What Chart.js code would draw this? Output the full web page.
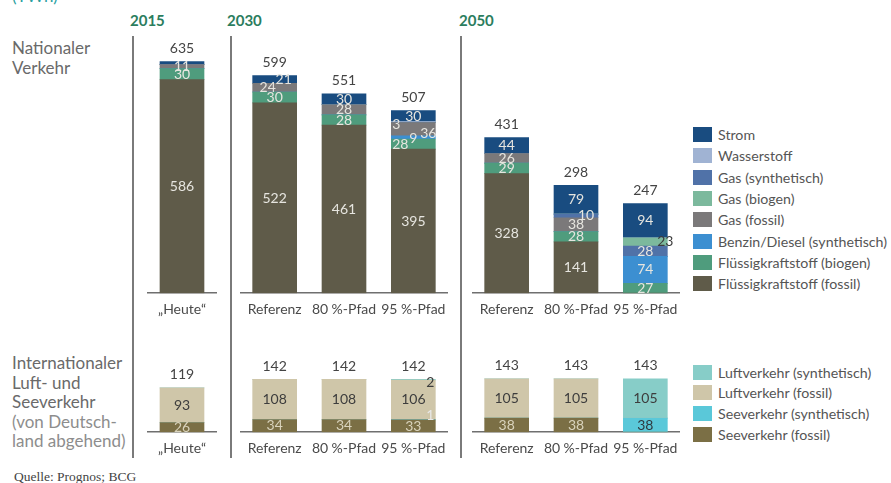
<!DOCTYPE html>
<html>
<head>
<meta charset="utf-8">
<script src="https://cdn.jsdelivr.net/npm/chart.js@4"></script>
<style>
  body { margin: 0; background: #fff; font-family: Lato, "Noto Sans", sans-serif; }
  #page { position: relative; width: 891px; height: 483px; overflow: hidden; }
  .box { position: absolute; }
  .sep { position: absolute; width: 2px; background: #7a7a7a; top: 36px; height: 422px; }
  .year { position: absolute; top: 11px; font-weight: bold; font-size: 15px; color: #2b7d5e; }
  .side { position: absolute; left: 12px; font-size: 17px; line-height: 19.6px; color: #6a6a6a; }
  .side .light { color: #8d8d8d; }
  .legend { position: absolute; left: 693px; font-size: 14.2px; color: #555; }
  .legend div { display: flex; align-items: center; }
  .legend span.sw { display: inline-block; width: 19px; height: 15px; margin-right: 6px; }
</style>
</head>
<body>
<div id="page">
  <div class="box" style="left:12px; top:-15px; font-size:17px; color:#2aa0a0;">(TWh)</div>
  <div class="year" style="left:130px;">2015</div>
  <div class="year" style="left:227px;">2030</div>
  <div class="year" style="left:459px;">2050</div>
  <div class="sep" style="left:132px;"></div>
  <div class="sep" style="left:230px;"></div>
  <div class="sep" style="left:460px;"></div>
  <div class="side" style="top:38px;">Nationaler<br>Verkehr</div>
  <div class="side" style="top:353px;">Internationaler<br>Luft- und<br>Seeverkehr<br><span class="light">(von Deutsch-<br>land abgehend)</span></div>
  <div class="box" style="left:14px; top:469px; font-family:'Liberation Serif', serif; font-size:13.5px; color:#444;">Quelle: Prognos; BCG</div>

  <div class="box" style="left:147px; top:38px; width:70px; height:288px;"><canvas id="t0"></canvas></div>
  <div class="box" style="left:240px; top:38px; width:208px; height:288px;"><canvas id="t1"></canvas></div>
  <div class="box" style="left:472px; top:38px; width:208px; height:288px;"><canvas id="t2"></canvas></div>
  <div class="box" style="left:147px; top:354px; width:70px; height:111px;"><canvas id="b0"></canvas></div>
  <div class="box" style="left:240px; top:354px; width:208px; height:111px;"><canvas id="b1"></canvas></div>
  <div class="box" style="left:472px; top:354px; width:208px; height:111px;"><canvas id="b2"></canvas></div>

  <div class="legend" id="legTop" style="top:124px;"></div>
  <div class="legend" id="legBottom" style="top:362px;"></div>
</div>
<script>
// bars: 2015 Heute | 2030 Referenz, 80 %, 95 % | 2050 Referenz, 80 %, 95 %
const categories = ['„Heute“', 'Referenz', '80\u202F%-Pfad', '95\u202F%-Pfad', 'Referenz', '80\u202F%-Pfad', '95\u202F%-Pfad'];
const panels = [[0], [1, 2, 3], [4, 5, 6]];

// Nationaler Verkehr (TWh)
const fluessigFossil = [586, 522, 461, 395, 328, 141, 0];
const fluessigBiogen = [30, 30, 28, 28, 29, 28, 27];
const benzinSynth    = [0, 0, 0, 9, 0, 0, 74];
const gasFossil      = [11, 24, 28, 36, 26, 38, 0];
const gasSynth       = [0, 0, 0, 0, 0, 10, 28];
const gasBiogen      = [0, 0, 0, 0, 0, 0, 23];
const wasserstoff    = [0, 0, 0, 3, 0, 0, 0];
const strom          = [8, 21, 30, 30, 44, 79, 94];
const totalsTop      = [635, 599, 551, 507, 431, 298, 247];

// Internationaler Luft- und Seeverkehr (TWh)
const seeFossil  = [26, 34, 34, 33, 38, 38, 0];
const seeSynth   = [0, 0, 0, 1, 0, 0, 38];
const luftFossil = [93, 108, 108, 106, 105, 105, 0];
const luftSynth  = [0, 0, 0, 2, 0, 0, 105];
const totalsBottom = [119, 142, 142, 142, 143, 143, 143];

const light = '#e6e5df', dark = '#3d3d3d';
const topSeries = [
  { label: 'Flüssigkraftstoff (fossil)', data: fluessigFossil, color: '#5f5b49', text: light },
  { label: 'Flüssigkraftstoff (biogen)', data: fluessigBiogen, color: '#4f9c7d', text: light },
  { label: 'Benzin/Diesel (synthetisch)', data: benzinSynth, color: '#3c8fd1', text: light },
  { label: 'Gas (fossil)', data: gasFossil, color: '#7b797a', text: light },
  { label: 'Gas (synthetisch)', data: gasSynth, color: '#5072a8', text: light },
  { label: 'Gas (biogen)', data: gasBiogen, color: '#7cb99d', text: light },
  { label: 'Wasserstoff', data: wasserstoff, color: '#a0b3d3', text: light },
  { label: 'Strom', data: strom, color: '#194c80', text: light },
];
const topLegendOrder = ['Strom', 'Wasserstoff', 'Gas (synthetisch)', 'Gas (biogen)', 'Gas (fossil)',
  'Benzin/Diesel (synthetisch)', 'Flüssigkraftstoff (biogen)', 'Flüssigkraftstoff (fossil)'];

const bottomSeries = [
  { label: 'Seeverkehr (fossil)', data: seeFossil, color: '#7b6f45', text: '#d9d3bc' },
  { label: 'Seeverkehr (synthetisch)', data: seeSynth, color: '#5ac8d9', text: '#2f3a40' },
  { label: 'Luftverkehr (fossil)', data: luftFossil, color: '#cfc6a9', text: dark },
  { label: 'Luftverkehr (synthetisch)', data: luftSynth, color: '#87cdc8', text: dark },
];

// label tweaks for crowded segments: [dx, dy, colour]
const nudge = {
  '1|Gas (fossil)': [-7, 0], '1|Strom': [9, 0],
  '3|Flüssigkraftstoff (biogen)': [-13, 0], '3|Benzin/Diesel (synthetisch)': [0, 1],
  '3|Gas (fossil)': [15, 4], '3|Wasserstoff': [-17, 2],
  '5|Gas (synthetisch)': [10, 0], '6|Gas (biogen)': [20, 0, dark],
};
const nudgeBottom = { '3|Luftverkehr (synthetisch)': [17, 3, dark], '3|Seeverkehr (synthetisch)': [17, -4, '#e8e8e8'] };
const skip = ['0|Strom'];

const segLabels = {
  id: 'segLabels',
  afterDatasetsDraw(chart, args, opts) {
    const ctx = chart.ctx;
    ctx.save();
    ctx.textAlign = 'center';
    ctx.textBaseline = 'middle';
    ctx.font = '14px Lato, sans-serif';
    const tops = [];
    chart.data.datasets.forEach((ds, di) => {
      chart.getDatasetMeta(di).data.forEach((bar, i) => {
        const v = ds.data[i];
        if (!v) return;
        tops[i] = Math.min(tops[i] ?? Infinity, bar.y);
        const key = opts.index[i] + '|' + ds.label;
        if (skip.includes(key)) return;
        const n = opts.nudge[key] || [0, 0];
        ctx.fillStyle = n[2] || ds.textColor;
        ctx.fillText(String(v), bar.x + n[0], (bar.y + bar.base) / 2 + n[1]);
      });
    });
    ctx.fillStyle = '#444';
    const bars = chart.getDatasetMeta(0).data;
    tops.forEach((t, i) => { if (t !== undefined) ctx.fillText(String(opts.totals[opts.index[i]]), bars[i].x, t - 13); });
    ctx.restore();
  }
};

function makeChart(id, idx, series, yMax, totals, nudges) {
  new Chart(document.getElementById(id), {
    type: 'bar',
    data: {
      labels: idx.map(i => categories[i]),
      datasets: series.map(s => ({
        label: s.label,
        data: idx.map(i => s.data[i]),
        backgroundColor: s.color,
        textColor: s.text,
        barThickness: 44,
        borderWidth: 0,
      })),
    },
    options: {
      responsive: true,
      maintainAspectRatio: false,
      animation: false,
      layout: { padding: 0 },
      plugins: {
        legend: { display: false },
        tooltip: { enabled: false },
        segLabels: { index: idx, totals, nudge: nudges },
      },
      scales: {
        x: {
          stacked: true,
          grid: { display: false, drawTicks: false },
          border: { display: true, color: '#6f6f6f', width: 1.5 },
          ticks: { color: '#4a4a4a', padding: 8, maxRotation: 0, minRotation: 0, autoSkip: false,
                   font: { family: 'Lato', size: 14 } },
          // keep the full canvas width for the bars, labels may reach the edge
          afterFit: (s) => { s.paddingLeft = 0; s.paddingRight = 0; },
        },
        y: { stacked: true, display: false, min: 0, max: yMax },
      },
    },
    plugins: [segLabels],
  });
}

panels.forEach((idx, p) => {
  makeChart('t' + p, idx, topSeries, 700, totalsTop, nudge);
  makeChart('b' + p, idx, bottomSeries, 210, totalsBottom, nudgeBottom);
});

function legend(el, names, series) {
  names.forEach(n => {
    const s = series.find(x => x.label === n);
    const row = document.createElement('div');
    row.style.height = el === 'legTop' ? '21.3px' : '20.6px';
    row.innerHTML = '<span class="sw" style="background:' + s.color + '"></span>' + n;
    document.getElementById(el).appendChild(row);
  });
}
legend('legTop', topLegendOrder, topSeries);
legend('legBottom', ['Luftverkehr (synthetisch)', 'Luftverkehr (fossil)', 'Seeverkehr (synthetisch)', 'Seeverkehr (fossil)'], bottomSeries);
</script>
</body>
</html>
